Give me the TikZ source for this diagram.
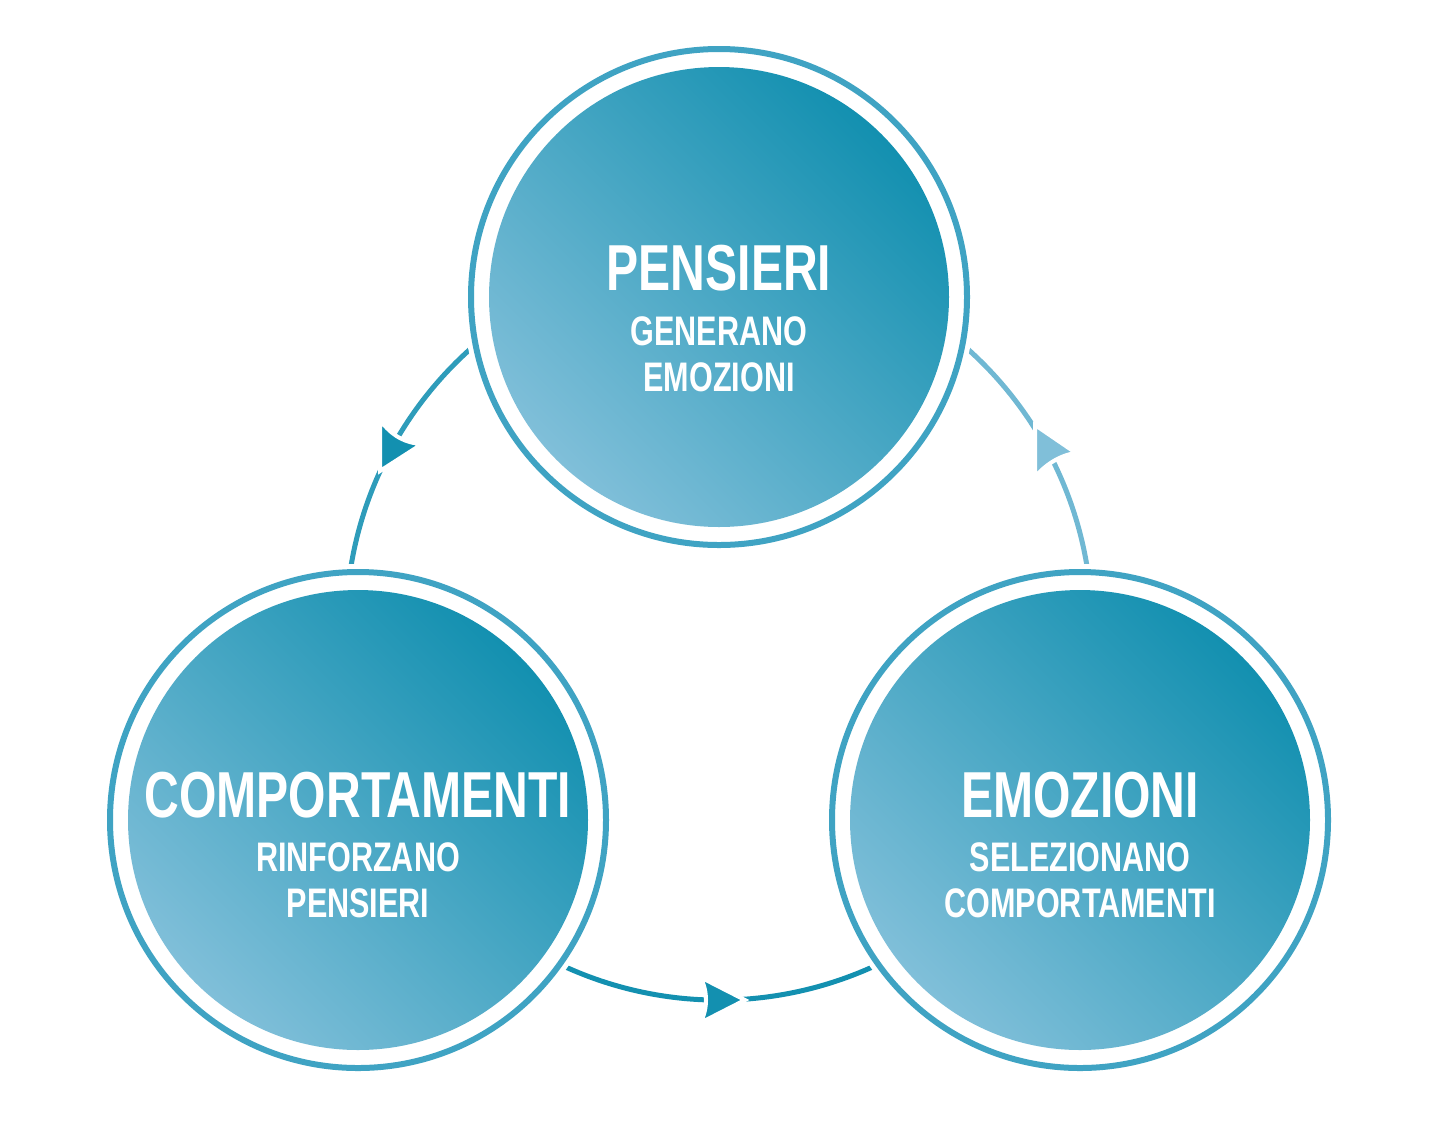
\documentclass[tikz,border=0pt]{standalone}
\usepackage{fontspec}
\setmainfont{Liberation Sans}[FakeStretch=0.74]
\definecolor{dk}{HTML}{1390B0}
\definecolor{lt}{HTML}{80BFD9}
\definecolor{md}{HTML}{45A5C5}
\definecolor{ringc}{HTML}{3FA3C3}
\tikzset{
 title/.style={text=white,font=\bfseries\fontsize{37}{37}\selectfont,inner sep=0},
 sub/.style={text=white,font=\bfseries\fontsize{23.5}{26}\selectfont,align=center,inner sep=0},
 arc/.style={line width=0.1cm},
 tip/.style={draw=white,line width=0.08cm,line join=miter}
}
\begin{document}
\begin{tikzpicture}[x=0.02cm,y=-0.02cm]
\useasboundingbox (0,0) rectangle (1440,1120);
\coordinate (cc) at (719,627);
% big cycle
\draw[arc,dk!75!lt] (cc) ++(185:373) arc[start angle=185,end angle=240,radius=373];
\draw[arc,lt!85!dk] (cc) ++(300:373) arc[start angle=300,end angle=355,radius=373];
\draw[arc,dk] (cc) ++(25:373) arc[start angle=25,end angle=155,radius=373];
% circles
\foreach \n/\x/\y in {p/719/297, c/358/820, e/1080/820}{
  \fill[white] (\x,\y) circle[radius=256];
  \draw[ringc,line width=0.12cm] (\x,\y) circle[radius=248];
  \shade[left color=dk,right color=lt,shading angle=-45] (\x,\y) circle[radius=230];
  \coordinate (\n) at (\x,\y);
}
% arrowheads
\filldraw[tip,fill=dk] (380,420) .. controls (392,436) and (405,443) .. (422,444) -- (380,471) -- cycle;
\filldraw[tip,fill=lt] (1035,425) -- (1076,453) .. controls (1060,455) and (1045,465) .. (1035,477) -- cycle;
\filldraw[tip,fill=dk] (700,977) .. controls (708,990) and (708,1010) .. (700,1023) -- (745,1000) -- cycle;
% texts
\node[title] (pt) at (719,268) {PENSIERI};
\node[sub] (ps) at (719,354) {GENERANO\\EMOZIONI};
\node[title] (ct) at (358,795) {COMPORTAMENTI};
\node[sub] (cs) at (358,880) {RINFORZANO\\PENSIERI};
\node[title] (et) at (1080,795) {EMOZIONI};
\node[sub] (es) at (1080,880) {SELEZIONANO\\COMPORTAMENTI};
\end{tikzpicture}
\end{document}
